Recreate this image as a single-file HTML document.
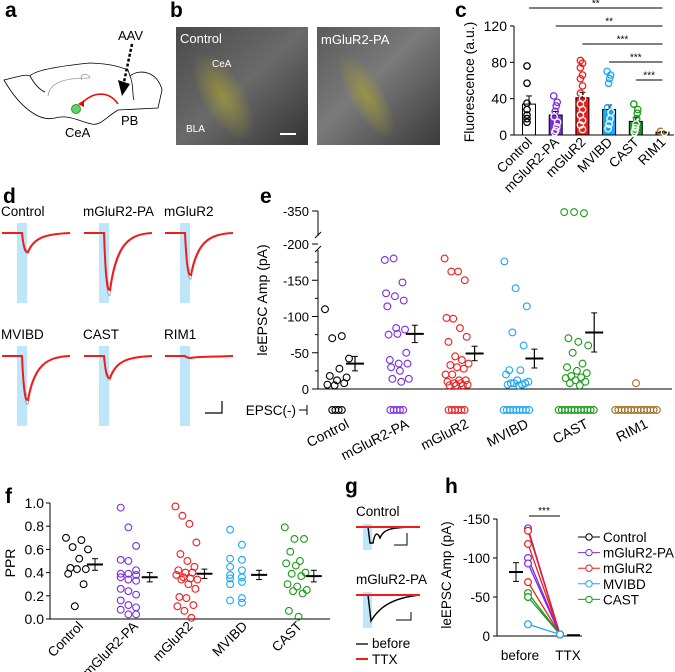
<!DOCTYPE html>
<html><head><meta charset="utf-8"><style>
body{margin:0;background:#fff}
svg{display:block;font-family:"Liberation Sans",Arial,sans-serif}
</style></head><body>
<svg id="fig" width="675" height="672" viewBox="0 0 675 672" xmlns="http://www.w3.org/2000/svg">
<defs>
<radialGradient id="y1" cx="0.45" cy="0.5" r="0.5"><stop offset="0" stop-color="#a8a030" stop-opacity="0.7"/><stop offset="1" stop-color="#a8a030" stop-opacity="0"/></radialGradient>
<linearGradient id="g1" x1="0" y1="0" x2="1" y2="1"><stop offset="0" stop-color="#4a4a4a"/><stop offset="0.5" stop-color="#6a6a6a"/><stop offset="1" stop-color="#333"/></linearGradient>
<linearGradient id="g2" x1="0" y1="0" x2="1" y2="1"><stop offset="0" stop-color="#5a5a5a"/><stop offset="0.45" stop-color="#7a7a7a"/><stop offset="1" stop-color="#3a3a3a"/></linearGradient>
</defs>
<g font-weight="bold" font-size="21" fill="#000">
<text x="5" y="17">a</text>
<text x="170" y="17">b</text>
<text x="455" y="17">c</text>
<text x="3" y="203">d</text>
<text x="260" y="203">e</text>
<text x="5" y="503">f</text>
<text x="345" y="493">g</text>
<text x="445" y="493">h</text>
</g>
<g fill="none" stroke="#000" stroke-width="0.8">
<path d="M4,80 C20,76 26,74 30,76 C35,70 60,66 90,63 C115,64 122,68 128,70 L130,76 C140,68 158,72 162,90 L158,108 L118,110 C105,118 100,126 92,124 C80,122 70,114 55,118 C40,122 20,108 4,80 Z"/>
<path d="M30,76 C35,85 40,90 45,92"/>
<path d="M48,96 C50,80 70,78 90,78" stroke="#999"/>
<path d="M82,80 C78,74 88,72 90,78" stroke="#999"/>
<path d="M130,76 C134,84 132,96 134,100"/>
</g>
<text x="118" y="40" font-size="13">AAV</text>
<line x1="132" y1="44" x2="124" y2="82" stroke="#000" stroke-width="2.5" stroke-dasharray="3,2"/>
<polygon points="118,80 130,84 122,96" fill="#000"/>
<path d="M82,103 C95,90 110,92 118,104" fill="none" stroke="#e00" stroke-width="1.5"/>
<polygon points="78,104 84,100 84,107" fill="#e00"/>
<circle cx="76" cy="109" r="4.5" fill="#5fd36a" stroke="#2a9a3a"/>
<text x="65" y="137" font-size="13">CeA</text>
<text x="121" y="125" font-size="13">PB</text>
<g>
<rect x="176" y="27" width="132" height="118" fill="url(#g1)"/>
<ellipse cx="225" cy="95" rx="22" ry="50" fill="url(#y1)" transform="rotate(-30 225 95)"/>
<text x="180" y="43" font-size="13" fill="#fff">Control</text>
<text x="212" y="67" font-size="10" fill="#fff">CeA</text>
<text x="186" y="132" font-size="10" fill="#fff">BLA</text>
<line x1="280" y1="134" x2="296" y2="134" stroke="#fff" stroke-width="2"/>
</g>
<g>
<rect x="317" y="27" width="123" height="118" fill="url(#g2)"/>
<ellipse cx="368" cy="95" rx="18" ry="48" fill="url(#y1)" transform="rotate(-30 368 95)"/>
<text x="321" y="44" font-size="13" fill="#fff">mGluR2-PA</text>
</g>
<g id="pc"></g>
<g id="pd"></g>
<g id="pe"></g>
<g id="pf"></g>
<g id="pg"></g>
<g id="ph"></g>
</svg>
<script>
const NS="http://www.w3.org/2000/svg";
const groups=["Control","mGluR2-PA","mGluR2","MVIBD","CAST","RIM1"];
const colors=["#000","#7a2ee0","#f01c1c","#1aa6f5","#1a9a1a","#a07020"];
const cMeans=[34,22,41,28,15,3];
const cSem=[9,4,6,5,4,1];
const cPoints=[[76,57,35,28,22,18,14],[43,36,32,26,20,14,9,5,3],[82,79,74,66,62,54,46,40,34,28,22,16,11,6],[70,66,62,57,30,25,18,12,7],[34,28,24,18,12,8,5,3],[4,3]];
const cTicks=[0,40,80,120];
const cSig=["**","**","***","***","***"];
const eVals=[[110,73,70,42,28,18,16,12,6,8,5],[178,180,147,132,128,122,114,84,82,75,76,50,40,35,35,30,25,14,14,10],[180,162,162,150,98,97,84,72,65,45,40,35,33,30,28,20,20,12,12,10,8,8,6,5,5,5],[176,139,114,78,60,26,26,20,12,10,8,8,8,6,6,5],[345,345,340,70,65,60,50,35,30,25,22,18,16,15,12,10,8,5],[8]];
const eMean=[35,76,49,42,78,0];
const eSem=[10,12,10,13,27,0];
const eNone=[4,5,6,9,12,14];
const eTicks=[0,50,100,150,200,350];
const fVals=[[0.70,0.68,0.62,0.60,0.52,0.44,0.43,0.43,0.39,0.30,0.11],[0.96,0.79,0.63,0.51,0.50,0.42,0.39,0.39,0.38,0.36,0.34,0.33,0.26,0.24,0.21,0.16,0.12,0.10,0.08,0.04,0.04],[0.97,0.89,0.82,0.66,0.56,0.50,0.45,0.42,0.40,0.40,0.38,0.36,0.35,0.34,0.34,0.30,0.26,0.19,0.18,0.12,0.11,0.07,0.01],[0.77,0.64,0.52,0.51,0.45,0.42,0.38,0.36,0.35,0.32,0.30,0.18,0.16,0.14],[0.79,0.69,0.69,0.58,0.50,0.48,0.46,0.40,0.39,0.37,0.30,0.28,0.25,0.24,0.22,0.07,0.02]];
const fMean=[0.47,0.36,0.39,0.38,0.37];
const fSem=[0.05,0.04,0.04,0.04,0.05];
const fTicks=[0,0.2,0.4,0.6,0.8,1.0];
const hBefore=[138,135,118,100,93,69,55,50,15];
const hAfter=[2,2,2,2,2,2,2,2,2];
const hGroup=[1,2,2,1,1,2,4,4,3];
const hMean=82, hSem=12;
const hTicks=[0,50,100,150];
const hLegend=[0,1,2,3,4];

function el(parent,tag,attrs,text){const e=document.createElementNS(NS,tag);for(const k in attrs)e.setAttribute(k,attrs[k]);if(text!==undefined)e.textContent=text;parent.appendChild(e);return e;}
function jit(i,n,w){if(n<=1)return 0;return ((i*7)%n/(n-1)-0.5)*w;}

(function(){const g=document.getElementById('pc');
const y=v=>135-v*(109/120), x=i=>529+i*26.7;
el(g,'line',{x1:514,y1:26,x2:514,y2:135,stroke:'#000','stroke-width':1});
el(g,'line',{x1:514,y1:135,x2:674,y2:135,stroke:'#000','stroke-width':1});
cTicks.forEach(t=>{el(g,'line',{x1:510,y1:y(t),x2:514,y2:y(t),stroke:'#000'});const tx=el(g,'text',{x:507,y:y(t)+5,'text-anchor':'end','font-size':14},String(t));});
const yl=el(g,'text',{x:0,y:0,transform:'translate(474,82) rotate(-90)','text-anchor':'middle','font-size':14},'Fluorescence (a.u.)');

cMeans.forEach((m,i)=>{const fill=i==0?'#fff':colors[i];
const b=el(g,'rect',{x:x(i)-6.5,y:y(m),width:13,height:135-y(m),fill:fill,stroke:'#000','stroke-width':1});

el(g,'line',{x1:x(i),y1:y(m),x2:x(i),y2:y(m+cSem[i]),stroke:'#000'});
el(g,'line',{x1:x(i)-3,y1:y(m+cSem[i]),x2:x(i)+3,y2:y(m+cSem[i]),stroke:'#000'});
cPoints[i].forEach((v,k)=>{const c=el(g,'circle',{cx:x(i)+jit(k,cPoints[i].length,4),cy:y(v),r:3.2,fill:'none',stroke:i==0?'#000':'#fff','stroke-width':1.3});
if(i>0&&y(v)<y(m))c.setAttribute('stroke',colors[i]);
});
const t=el(g,'text',{x:0,y:0,transform:`translate(${x(i)+4},${143}) rotate(-45)`,'text-anchor':'end','font-size':13.5},groups[i]);
});
cSig.forEach((s,i)=>{const yy=8+i*18;el(g,'line',{x1:x(i),y1:yy,x2:x(5),y2:yy,stroke:'#000'});
const t=el(g,'text',{x:(x(i)+x(5))/2,y:yy-1.5,'text-anchor':'middle','font-size':10},s);});
})();

(function(){const g=document.getElementById('pd');
const cells=[[2,233,"Control",19],[84,233,"mGluR2-PA",57],[165,233,"mGluR2",42],[2,356,"MVIBD",44],[84,356,"CAST",22],[165,356,"RIM1",2]];
cells.forEach((c,i)=>{const [x0,b,lab,d]=c;const top=b-10,bot=i<3?303:426;
el(g,'rect',{x:x0+15,y:top,width:10,height:bot-top,fill:'#bde6fa'});
const t=el(g,'text',{x:x0-1,y:b-17,'font-size':13.5},lab);
const path=(dd,dx)=>`M${x0},${b} L${x0+20},${b} C${x0+22},${b+dd} ${x0+24},${b+dd} ${x0+26+dx},${b+dd} C${x0+32},${b+dd*0.2} ${x0+45},${b+1} ${x0+68},${b}`;
el(g,'path',{d:path(d*1.1,0),fill:'none',stroke:'#999','stroke-width':0.8});
el(g,'path',{d:path(d*0.9,1),fill:'none',stroke:'#aaa','stroke-width':0.8});
el(g,'path',{d:path(d,0),fill:'none',stroke:'#f01c1c','stroke-width':2});});
el(g,'path',{d:'M205,413 L222,413 L222,401',fill:'none',stroke:'#000','stroke-width':1.2});
})();

(function(){const g=document.getElementById('pe');
const y=v=>v<=200?389-v*0.725:244-(v-200)*(33/150);
const x=i=>340+i*59.8;
el(g,'line',{x1:318,y1:389,x2:318,y2:250,stroke:'#000'});
el(g,'line',{x1:318,y1:236,x2:318,y2:211,stroke:'#000'});
el(g,'line',{x1:315,y1:238,x2:321,y2:232,stroke:'#000'});el(g,'line',{x1:315,y1:252,x2:321,y2:246,stroke:'#000'});
el(g,'line',{x1:318,y1:389,x2:672,y2:389,stroke:'#000'});
eTicks.forEach(t=>{el(g,'line',{x1:312,y1:y(t),x2:318,y2:y(t),stroke:'#000'});const tx=el(g,'text',{x:309,y:y(t)+5,'text-anchor':'end','font-size':13},t==0?'0':'-'+t);});
[25,75,125,175].forEach(t=>el(g,'line',{x1:315,y1:y(t),x2:318,y2:y(t),stroke:'#000'}));
const yl=el(g,'text',{x:0,y:0,transform:'translate(267,300) rotate(-90)','text-anchor':'middle','font-size':14},'leEPSC Amp (pA)');
const en=el(g,'text',{x:296,y:415,'text-anchor':'end','font-size':13.5},'EPSC(-)');
el(g,'line',{x1:299,y1:410,x2:307,y2:410,stroke:'#000'});el(g,'line',{x1:307,y1:405,x2:307,y2:415,stroke:'#000'});
eVals.forEach((arr,i)=>{arr.forEach((v,k)=>{const c=el(g,'circle',{cx:x(i)-3+jit(k,arr.length,i==5?0:24),cy:y(v),r:3.4,fill:'none',stroke:colors[i],'stroke-width':1.1});});
const n=eNone[i];for(let k=0;k<n;k++){const c=el(g,'circle',{cx:x(i)-3-n*1.6+k*3.2+1.6,cy:410,r:3.4,fill:'none',stroke:colors[i],'stroke-width':1.1});}
if(i<5){const mx=x(i)+15;el(g,'line',{x1:mx-9,y1:y(eMean[i]),x2:mx+9,y2:y(eMean[i]),stroke:'#000','stroke-width':2});
el(g,'line',{x1:mx,y1:y(eMean[i]-eSem[i]),x2:mx,y2:y(eMean[i]+eSem[i]),stroke:'#000','stroke-width':1.2});
[eMean[i]-eSem[i],eMean[i]+eSem[i]].forEach(v=>el(g,'line',{x1:mx-3,y1:y(v),x2:mx+3,y2:y(v),stroke:'#000'}));}
const t=el(g,'text',{x:0,y:0,transform:`translate(${x(i)+10},${427}) rotate(-27)`,'text-anchor':'end','font-size':14},groups[i]);});
})();

(function(){const g=document.getElementById('pf');
const y=v=>619-v*116, x=i=>78+i*54.7;
el(g,'line',{x1:50,y1:503,x2:50,y2:619,stroke:'#000'});el(g,'line',{x1:50,y1:619,x2:330,y2:619,stroke:'#000'});
fTicks.forEach(t=>{el(g,'line',{x1:46,y1:y(t),x2:50,y2:y(t),stroke:'#000'});const tx=el(g,'text',{x:44,y:y(t)+5,'text-anchor':'end','font-size':14},t.toFixed(1));});
const yl=el(g,'text',{x:0,y:0,transform:'translate(15,563) rotate(-90)','text-anchor':'middle','font-size':14},'PPR');
fVals.forEach((arr,i)=>{arr.forEach((v,k)=>{const c=el(g,'circle',{cx:x(i)-1+jit(k,arr.length,22),cy:y(v),r:3.4,fill:'none',stroke:colors[i],'stroke-width':1.1});});
const mx=x(i)+17;el(g,'line',{x1:mx-8,y1:y(fMean[i]),x2:mx+8,y2:y(fMean[i]),stroke:'#000','stroke-width':2});
el(g,'line',{x1:mx,y1:y(fMean[i]-fSem[i]),x2:mx,y2:y(fMean[i]+fSem[i]),stroke:'#000'});
[fMean[i]-fSem[i],fMean[i]+fSem[i]].forEach(v=>el(g,'line',{x1:mx-3,y1:y(v),x2:mx+3,y2:y(v),stroke:'#000'}));
const t=el(g,'text',{x:0,y:0,transform:`translate(${x(i)+6},${627}) rotate(-45)`,'text-anchor':'end','font-size':13.5},groups[i]);});
})();

(function(){const g=document.getElementById('pg');
[[527,"Control",16],[595,"mGluR2-PA",26]].forEach((c,i)=>{const [b,lab,d]=c;
el(g,'rect',{x:363,y:b-3,width:9,height:d+10,fill:'#bde6fa'});
const t=el(g,'text',{x:356,y:b-11,'font-size':13.5},lab);
const p=i==0?`M356,${b} L368,${b} L370,${b+d} L373,${b+d} C375,${b+4} 378,${b+6} 380,${b+11} C384,${b+2} 390,${b} 420,${b}`:`M356,${b} L368,${b} L371,${b+d} C378,${b+14} 390,${b+3} 420,${b}`;
el(g,'path',{d:p,fill:'none',stroke:'#000','stroke-width':1.4});
el(g,'line',{x1:356,y1:b,x2:420,y2:b,stroke:'#f01c1c','stroke-width':2});
});
el(g,'path',{d:'M394,545 L407,545 L407,533',fill:'none',stroke:'#000'});
el(g,'path',{d:'M396,620 L411,620 L411,612',fill:'none',stroke:'#000'});
el(g,'line',{x1:356,y1:644,x2:368,y2:644,stroke:'#000','stroke-width':1.3});
el(g,'line',{x1:356,y1:659,x2:368,y2:659,stroke:'#f01c1c','stroke-width':2});
let t=el(g,'text',{x:372,y:648,'font-size':13.5},'before');
t=el(g,'text',{x:372,y:664,'font-size':13.5},'TTX');
})();

(function(){const g=document.getElementById('ph');
const y=v=>636-v*0.78, xb=528, xa=560;
el(g,'line',{x1:497,y1:519,x2:497,y2:636,stroke:'#000'});el(g,'line',{x1:497,y1:636,x2:582,y2:636,stroke:'#000'});
hTicks.forEach(t=>{el(g,'line',{x1:493,y1:y(t),x2:497,y2:y(t),stroke:'#000'});const tx=el(g,'text',{x:490,y:y(t)+5,'text-anchor':'end','font-size':13.5},t==0?'0':'-'+t);});
const yl=el(g,'text',{x:0,y:0,transform:'translate(451,575) rotate(-90)','text-anchor':'middle','font-size':13.5},'leEPSC Amp (pA)');
let t=el(g,'text',{x:520,y:660,'text-anchor':'middle','font-size':13.5},'before');
t=el(g,'text',{x:568,y:660,'text-anchor':'middle','font-size':13.5},'TTX');
hBefore.forEach((v,k)=>{const col=colors[hGroup[k]];
const ln=el(g,'line',{x1:xb,y1:y(v),x2:xa,y2:y(hAfter[k]),stroke:col,'stroke-width':1.3});
[[xb,v],[xa,hAfter[k]]].forEach(p=>{const c=el(g,'circle',{cx:p[0],cy:y(p[1]),r:3.4,fill:'#fff',stroke:col,'stroke-width':1.2});});});
const mx=516;el(g,'line',{x1:mx-7,y1:y(hMean),x2:mx+7,y2:y(hMean),stroke:'#000','stroke-width':2});
el(g,'line',{x1:mx,y1:y(hMean-hSem),x2:mx,y2:y(hMean+hSem),stroke:'#000'});
[hMean-hSem,hMean+hSem].forEach(v=>el(g,'line',{x1:mx-3,y1:y(v),x2:mx+3,y2:y(v),stroke:'#000'}));
el(g,'line',{x1:567,y1:y(1),x2:580,y2:y(1),stroke:'#000','stroke-width':2});
el(g,'line',{x1:529,y1:516,x2:560,y2:516,stroke:'#000'});
t=el(g,'text',{x:544,y:514,'text-anchor':'middle','font-size':10},'***');
hLegend.forEach((gi,k)=>{const yy=537+k*15.6;el(g,'line',{x1:578,y1:yy,x2:600,y2:yy,stroke:colors[gi]});
el(g,'circle',{cx:589,cy:yy,r:3.2,fill:'#fff',stroke:colors[gi]});
const tt=el(g,'text',{x:603,y:yy+5,'font-size':13.5},groups[gi]);});
})();
</script>
</body></html>
